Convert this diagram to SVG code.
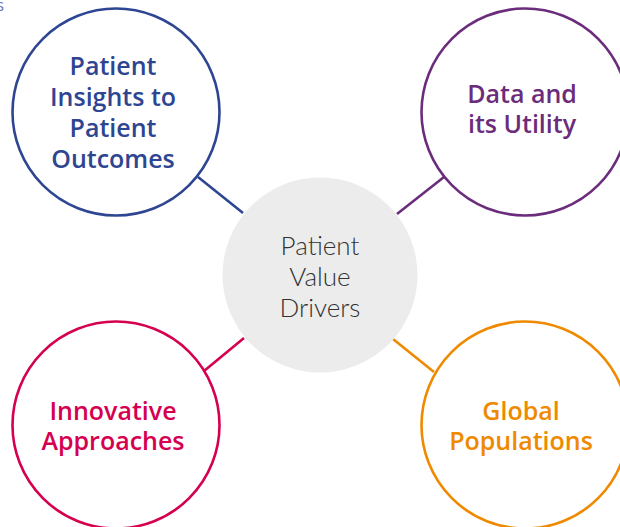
<svg xmlns="http://www.w3.org/2000/svg" width="620" height="527" viewBox="0 0 620 527">
<style>
.ring{fill:#fff;stroke-width:2.6}
.lbl{font-family:"Open Sans","Liberation Sans",sans-serif;font-weight:600;font-size:25px;text-anchor:middle}
.ctr{font-family:"Lato","Open Sans","Liberation Sans",sans-serif;font-weight:300;font-size:26px;text-anchor:middle;fill:#333}
.con{stroke-width:2.6;fill:none}
</style>
<rect width="620" height="527" fill="#fff"/>
<text x="-4" y="11" font-family="Open Sans, Liberation Sans, sans-serif" font-size="17" fill="#6a7cc0">s</text>
<g id="connectors">
<line class="con" x1="198" y1="177" x2="243" y2="213" stroke="#2e4592"/>
<line class="con" x1="444" y1="177" x2="397" y2="214" stroke="#6b2c7c"/>
<line class="con" x1="204" y1="371" x2="244" y2="338" stroke="#d5004f"/>
<line class="con" x1="434" y1="372" x2="393" y2="339" stroke="#ef8a00"/>
</g>
<g id="center">
<circle cx="320" cy="275" r="97.5" fill="#ececec"/>
<text class="ctr" x="320" y="255">Patient</text>
<text class="ctr" x="320" y="286">Value</text>
<text class="ctr" x="320" y="317">Drivers</text>
</g>
<g id="patient-insights">
<circle class="ring" cx="116" cy="112" r="103.5" stroke="#2e4592"/>
<text class="lbl" fill="#2e4592"><tspan x="113" y="75">Patient</tspan><tspan x="113" y="106">Insights to</tspan><tspan x="113" y="137">Patient</tspan><tspan x="113" y="168">Outcomes</tspan></text>
</g>
<g id="data-utility">
<circle class="ring" cx="525" cy="112" r="103.5" stroke="#6b2c7c"/>
<text class="lbl" fill="#6b2c7c"><tspan x="522" y="103">Data and</tspan><tspan x="522" y="133">its Utility</tspan></text>
</g>
<g id="innovative-approaches">
<circle class="ring" cx="116" cy="425" r="103.5" stroke="#d5004f"/>
<text class="lbl" fill="#d5004f"><tspan x="113" y="420">Innovative</tspan><tspan x="113" y="450">Approaches</tspan></text>
</g>
<g id="global-populations">
<circle class="ring" cx="525" cy="425" r="103.5" stroke="#ef8a00"/>
<text class="lbl" fill="#ef8a00"><tspan x="521" y="420">Global</tspan><tspan x="521" y="450">Populations</tspan></text>
</g>
</svg>
